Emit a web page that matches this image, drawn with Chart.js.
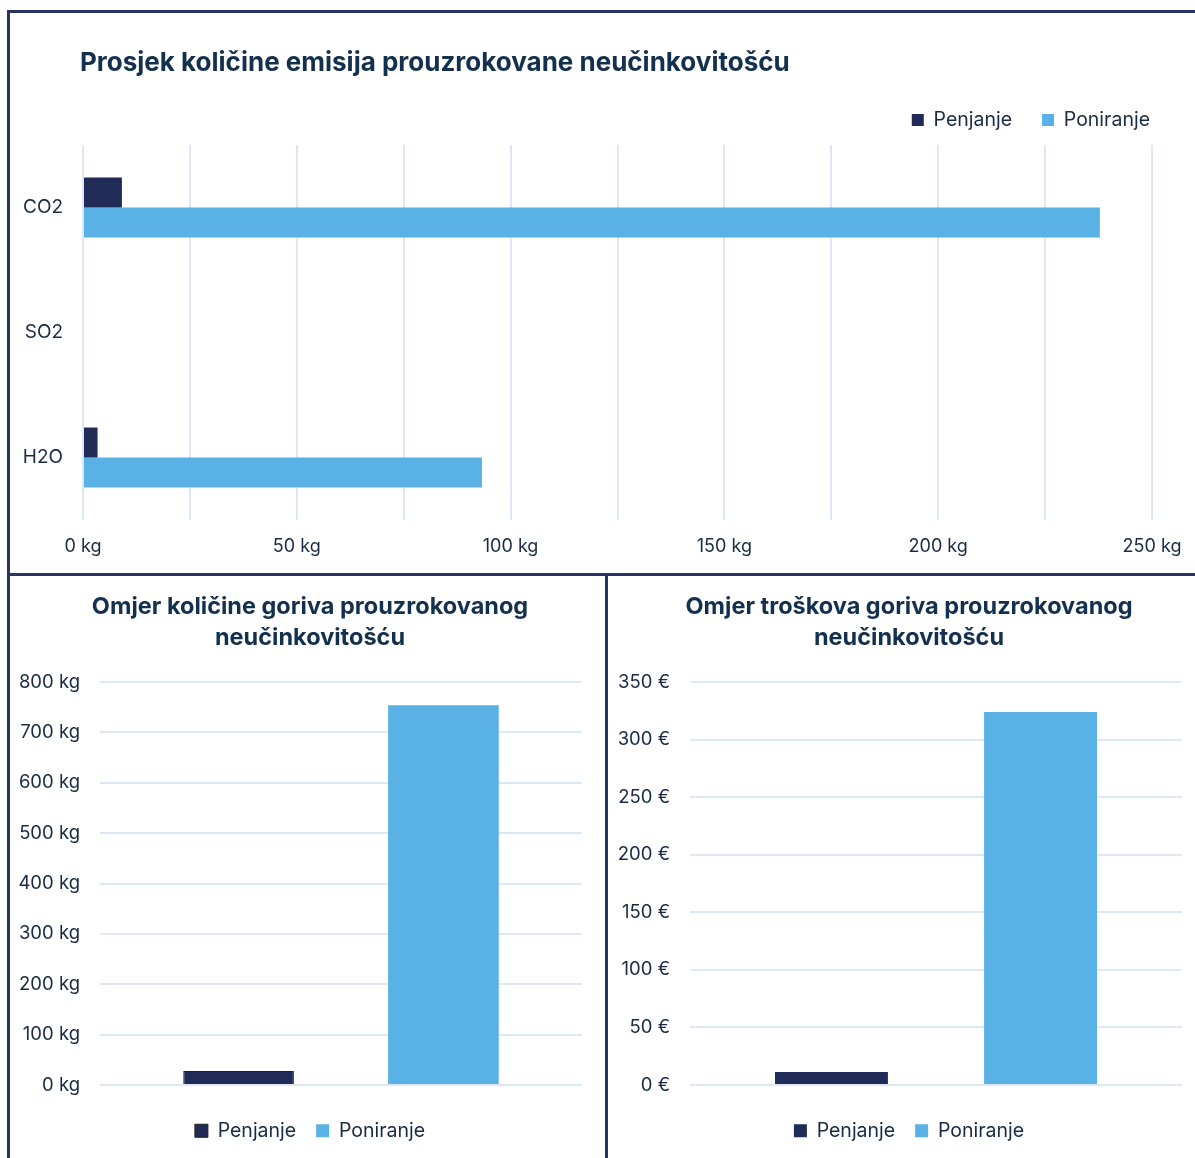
<!DOCTYPE html>
<html>
<head>
<meta charset="utf-8">
<script src="https://cdn.jsdelivr.net/npm/chart.js@4.4.1/dist/chart.umd.min.js"></script>
<style>
  html, body { margin: 0; padding: 0; background: #fff; overflow: hidden; width: 1195px; height: 1158px; }
  .panel { position: absolute; box-sizing: border-box; border: 3px solid #2a3462; }
  .box { position: absolute; }
</style>
</head>
<body>
<div class="panel" style="left:7px;top:10px;width:1200px;height:566px"></div>
<div class="panel" style="left:7px;top:573px;width:601px;height:600px"></div>
<div class="panel" style="left:605px;top:573px;width:600px;height:600px"></div>

<div class="box" style="left:10px;top:13px;width:1185px;height:560px"><canvas id="emisije"></canvas></div>
<div class="box" style="left:10px;top:576px;width:600px;height:582px"><canvas id="gorivo"></canvas></div>
<div class="box" style="left:608px;top:576px;width:602px;height:582px"><canvas id="troskovi"></canvas></div>

<script>
// podaci
const serije = ['Penjanje', 'Poniranje'];
const emisijeKategorije = ['CO2', 'SO2', 'H2O'];
const emisijePenjanje = [9.1, 0, 3.4];
const emisijePoniranje = [237.8, 0, 93.3];
const gorivoPenjanje = [28];
const gorivoPoniranje = [754];
const troskoviPenjanje = [11.3];
const troskoviPoniranje = [324];

const TAMNA = '#202b57';
const SVIJETLA = '#5ab1e5';
const TEKST = '#1a2a45';
const NASLOV = '#14304f';
const MREZA = '#dde8f6';
const FONT = 'Inter, "Noto Sans", sans-serif';

Chart.defaults.font.family = FONT;
Chart.defaults.color = TEKST;
Chart.defaults.animation = false;

// naslov poravnat s lijevim rubom grafa, ne s rubom platna
const naslovLijevo = {
    id: 'naslovLijevo',
    afterDraw(chart, args, opts) {
        const { ctx } = chart;
        ctx.save();
        ctx.font = `bold ${opts.size}px ${FONT}`;
        ctx.fillStyle = opts.color;
        ctx.textAlign = 'left';
        ctx.textBaseline = 'middle';
        ctx.fillText(opts.text, opts.x, opts.y);
        ctx.restore();
    }
};

// gornji graf: vodoravni stupci
new Chart(document.getElementById('emisije'), {
    type: 'bar',
    plugins: [naslovLijevo],
    data: {
        labels: emisijeKategorije,
        datasets: [
            { label: serije[0], data: emisijePenjanje, backgroundColor: TAMNA },
            { label: serije[1], data: emisijePoniranje, backgroundColor: SVIJETLA }
        ]
    },
    options: {
        indexAxis: 'y',
        responsive: true,
        maintainAspectRatio: false,
        categoryPercentage: 0.48,
        barPercentage: 1,
        layout: { padding: { left: 0, right: 15, top: 67.25, bottom: 13 } },
        plugins: {
            naslovLijevo: {
                text: 'Prosjek količine emisija prouzrokovane neučinkovitošću',
                color: NASLOV,
                size: 26,
                x: 70,
                y: 50
            },
            // razmak izmedu legende i grafa
            subtitle: {
                display: true,
                text: '',
                font: { size: 5.25, lineHeight: 1 },
                padding: 0
            },
            legend: {
                position: 'top',
                align: 'end',
                weight: 1600,
                labels: {
                    boxWidth: 12,
                    boxHeight: 12,
                    padding: 30,
                    color: TEKST,
                    font: { size: 19.5 }
                }
            },
            tooltip: { enabled: false }
        },
        scales: {
            x: {
                min: 0,
                max: 250,
                grid: { color: MREZA, lineWidth: 2, drawTicks: false },
                border: { display: false },
                ticks: {
                    stepSize: 25,
                    autoSkip: false,
                    padding: 16,
                    maxRotation: 0,
                    font: { size: 18 },
                    callback: v => (v % 50 === 0 ? `${v} kg` : '')
                },
                afterFit(scale) {
                    scale.height = 40;
                    scale.paddingRight = 43;
                }
            },
            y: {
                grid: { display: false, drawTicks: false },
                border: { display: false },
                ticks: { padding: 20, font: { size: 19 } },
                afterFit(scale) {
                    scale.width = 73;
                }
            }
        }
    }
});

function okomitiGraf(id, penjanje, poniranje, naslov, max, korak, jedinica, yWidth) {
    return new Chart(document.getElementById(id), {
        type: 'bar',
        data: {
            labels: [''],
            datasets: [
                {
                    label: serije[0],
                    data: penjanje,
                    backgroundColor: TAMNA,
                    borderColor: id === 'gorivo' ? '#1c2218' : TAMNA,
                    borderWidth: id === 'gorivo' ? 1 : 0
                },
                { label: serije[1], data: poniranje, backgroundColor: SVIJETLA }
            ]
        },
        options: {
            responsive: true,
            maintainAspectRatio: false,
            categoryPercentage: 0.85,
            barPercentage: 0.54,
            layout: { padding: { left: 0, right: 0, top: 0, bottom: 7.5 } },
            plugins: {
                title: {
                    display: true,
                    text: naslov,
                    color: NASLOV,
                    font: { size: 23.5, weight: 'bold', lineHeight: 1.32 },
                    padding: { top: 15.5, bottom: 28.5 }
                },
                legend: {
                    position: 'bottom',
                    labels: {
                        boxWidth: 13,
                        boxHeight: 13,
                        padding: 20,
                        color: TEKST,
                        font: { size: 19.5 }
                    }
                },
                tooltip: { enabled: false }
            },
            scales: {
                x: {
                    grid: { display: false, drawTicks: false },
                    border: { display: false },
                    ticks: { display: false },
                    afterFit(scale) {
                        scale.height = 16;
                        scale.paddingRight = 28;
                    }
                },
                y: {
                    min: 0,
                    max: max,
                    grid: { color: MREZA, lineWidth: 2, drawTicks: false },
                    border: { display: false },
                    ticks: {
                        stepSize: korak,
                        padding: 20,
                        font: { size: 18.5 },
                        callback: v => `${v} ${jedinica}`
                    },
                    afterFit(scale) {
                        scale.width = yWidth;
                    }
                }
            }
        }
    });
}

okomitiGraf('gorivo', gorivoPenjanje, gorivoPoniranje,
    ['Omjer količine goriva prouzrokovanog', 'neučinkovitošću'], 800, 100, 'kg', 90);
okomitiGraf('troskovi', troskoviPenjanje, troskoviPoniranje,
    ['Omjer troškova goriva prouzrokovanog', 'neučinkovitošću'], 350, 50, '€', 82);
</script>
</body>
</html>
